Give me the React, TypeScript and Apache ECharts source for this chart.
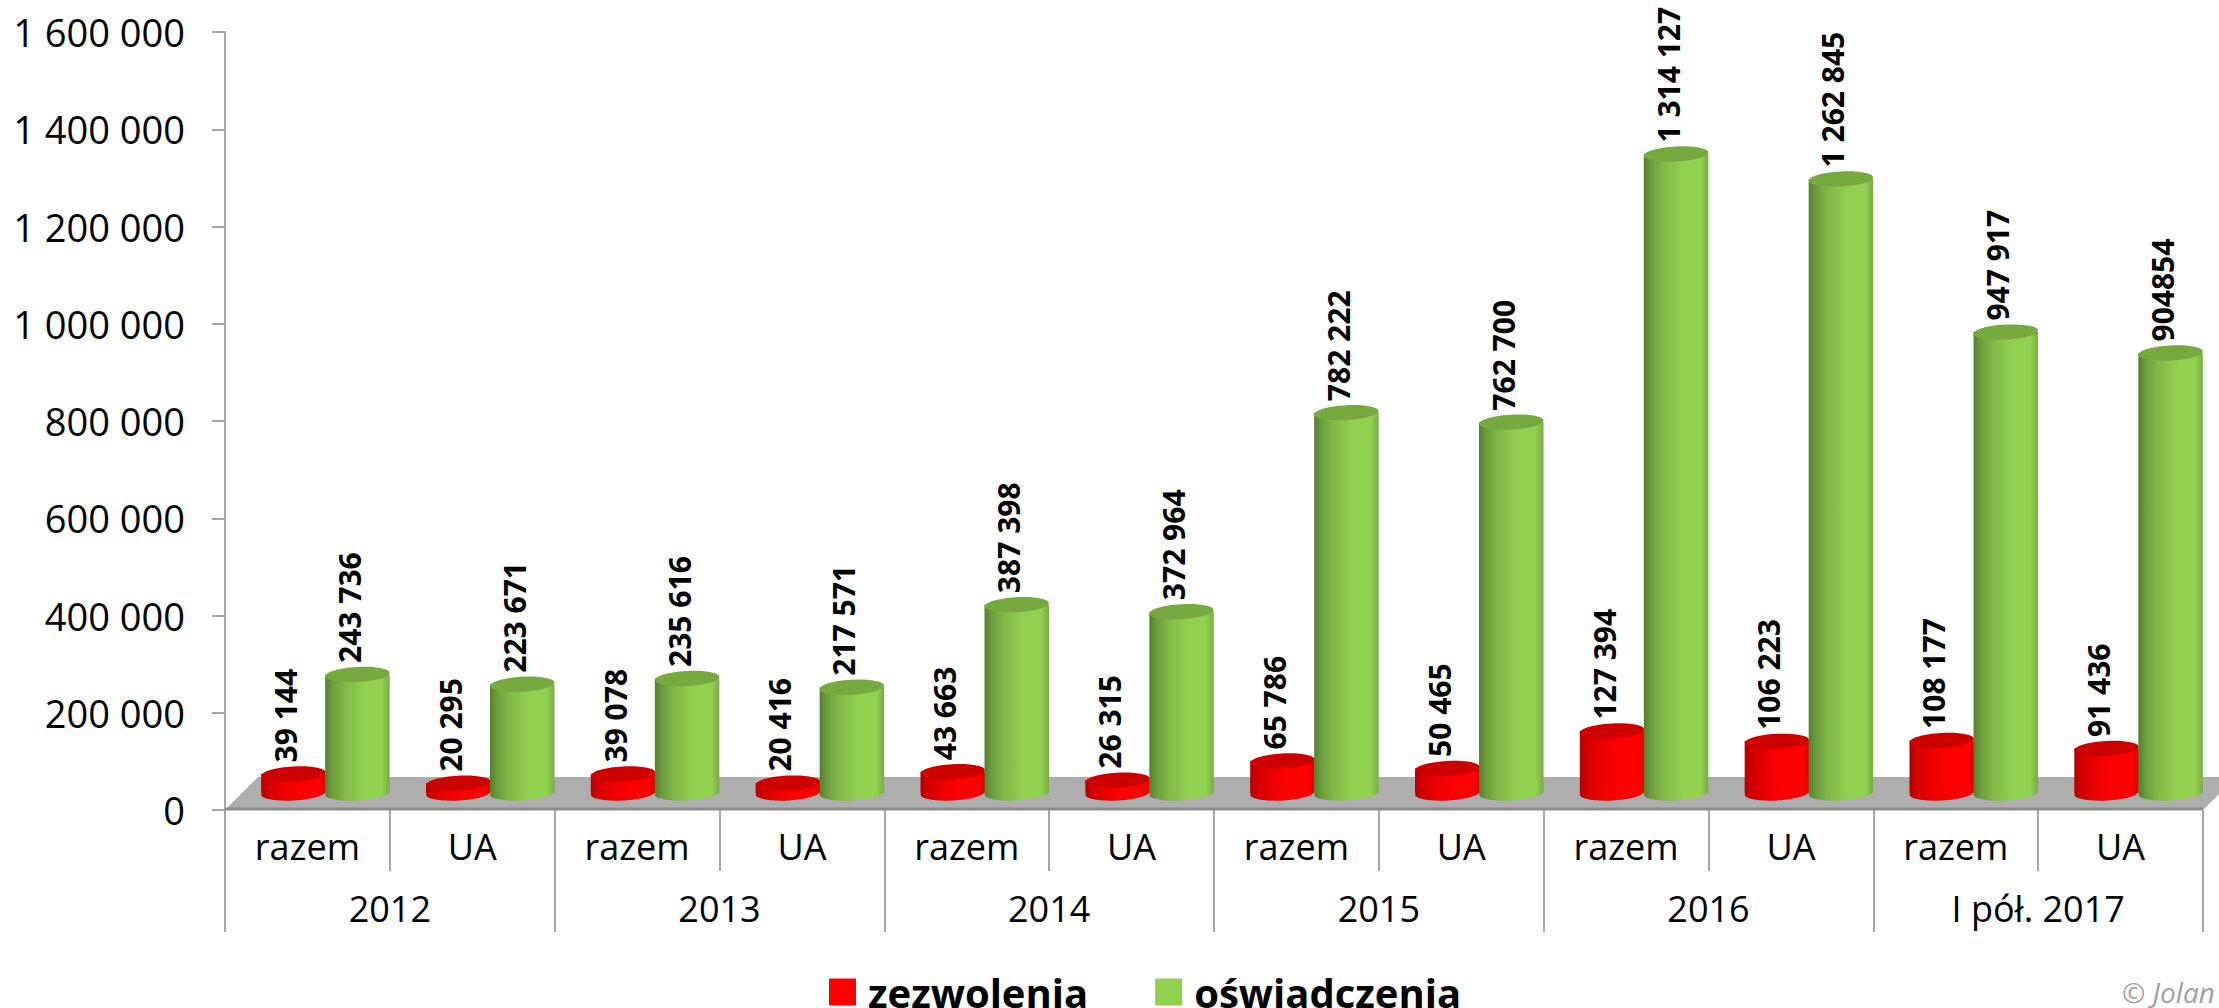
import React, { useEffect, useRef } from "react";
import * as echarts from "echarts";

const subCategories = ["razem", "UA", "razem", "UA", "razem", "UA", "razem", "UA", "razem", "UA", "razem", "UA"];
const periods = ["2012", "2013", "2014", "2015", "2016", "I pół. 2017"];
const zezwolenia = [39144, 20295, 39078, 20416, 43663, 26315, 65786, 50465, 127394, 106223, 108177, 91436];
const oswiadczenia = [243736, 223671, 235616, 217571, 387398, 372964, 782222, 762700, 1314127, 1262845, 947917, 904854];
const zezwoleniaLabels = ["39 144", "20 295", "39 078", "20 416", "43 663", "26 315", "65 786", "50 465", "127 394", "106 223", "108 177", "91 436"];
const oswiadczeniaLabels = ["243 736", "223 671", "235 616", "217 571", "387 398", "372 964", "782 222", "762 700", "1 314 127", "1 262 845", "947 917", "904854"];

const FONT = "'Open Sans', sans-serif";
const DEPTH = 33;
const LIFT = 17;
const BAR_W = 64.5;
const RY = 7.5;
const TILT = 0.055;

function hGrad(stops: [number, string][]) {
  return {
    type: "linear", x: 0, y: 0, x2: 1, y2: 0,
    colorStops: stops.map(([offset, color]) => ({ offset, color })),
  };
}

const greenBody = hGrad([[0, "#547f30"], [0.1, "#6b9a3d"], [0.3, "#82b847"], [0.6, "#92d050"], [0.88, "#92d050"], [1, "#79ad44"]]);
const redBody = hGrad([[0, "#b00000"], [0.12, "#d40000"], [0.35, "#ee0000"], [0.65, "#ff0000"], [0.9, "#ff0000"], [1, "#dd0000"]]);

function cylinder(dx: number, body: any, topColor: string, labels: string[]) {
  return (params: any, api: any) => {
    const i = api.value(0);
    const [cx, yv] = api.coord([i, api.value(1)]);
    const [, y0] = api.coord([i, 0]);
    const x = cx + dx;
    const base = y0 - LIFT;
    const top = yv - LIFT;
    return {
      type: "group",
      children: [
        { type: "ellipse", x, y: base, rotation: TILT, shape: { cx: 0, cy: 0, rx: BAR_W / 2, ry: RY }, style: { fill: body } },
        { type: "rect", shape: { x: x - BAR_W / 2, y: top, width: BAR_W, height: base - top }, style: { fill: body } },
        { type: "ellipse", x, y: top, rotation: TILT, shape: { cx: 0, cy: 0, rx: BAR_W / 2, ry: RY }, style: { fill: topColor } },
        {
          type: "text", x: x - 8, y: top - RY - 4, rotation: Math.PI / 2,
          style: {
            text: labels[i], fontFamily: FONT, fontWeight: "bold", fontSize: 30, fill: "#000",
            align: "left", verticalAlign: "middle",
          },
        },
      ],
    };
  };
}

function floor(params: any, api: any) {
  const c = params.coordSys;
  const b = c.y + c.height;
  const r = c.x + c.width;
  return {
    type: "group",
    children: [
      { type: "polygon", shape: { points: [[c.x, b], [r, b], [r + DEPTH, b - DEPTH], [c.x + DEPTH, b - DEPTH]] }, style: { fill: "#aeaeae" } },
      { type: "line", shape: { x1: c.x, y1: b - 1, x2: r, y2: b - 1 }, style: { stroke: "#8c8c8c", lineWidth: 3 } },
    ],
  };
}

export default function App() {
  const ref = useRef<HTMLDivElement>(null);
  useEffect(() => {
    const chart = echarts.init(ref.current!, undefined, { renderer: "svg" });
    const axisColor = "#a6a6a6";
    chart.setOption({
      animation: false,
      backgroundColor: "#fff",
      grid: { left: 225, right: 16, top: 32, bottom: 198 },
      legend: {
        left: 829, top: 972, padding: 0, itemWidth: 27, itemHeight: 27, itemGap: 67, icon: "rect", selectedMode: false,
        data: ["zezwolenia", "oświadczenia"],
        textStyle: { fontFamily: FONT, fontWeight: "bold", fontSize: 40, color: "#000", lineHeight: 30, padding: [0, 0, 6, 7] },
      },
      xAxis: [
        {
          type: "category", data: subCategories, position: "bottom",
          axisLine: { show: false },
          axisTick: { show: true, length: 61, lineStyle: { color: axisColor, width: 2 } },
          axisLabel: { interval: 0, margin: 36, verticalAlign: "middle", fontFamily: FONT, fontSize: 36, color: "#000" },
        },
        {
          type: "category", data: periods, position: "bottom",
          axisLine: { show: false },
          axisTick: { show: true, length: 122, lineStyle: { color: axisColor, width: 2 } },
          axisLabel: { interval: 0, margin: 98, verticalAlign: "middle", fontFamily: FONT, fontSize: 36, color: "#000" },
        },
      ],
      yAxis: {
        type: "value", min: 0, max: 1600000, interval: 200000,
        splitLine: { show: false },
        axisLine: { show: true, lineStyle: { color: axisColor, width: 2 } },
        axisTick: { show: true, length: 13, lineStyle: { color: axisColor, width: 2 } },
        axisLabel: {
          margin: 40, fontFamily: FONT, fontSize: 38, color: "#000",
          formatter: (v: number) => String(v).replace(/\B(?=(\d{3})+$)/g, " "),
        },
      },
      graphic: [
        {
          type: "text", x: 2122, y: 1006,
          style: { text: "© Jolan", fontFamily: FONT, fontStyle: "italic", fontSize: 28, fill: "#a0a0a0", align: "left", verticalAlign: "bottom" },
        },
      ],
      series: [
        { type: "custom", name: "floor", silent: true, clip: false, renderItem: floor, data: [[0, 0]], encode: { x: 0, y: 1 } },
        {
          type: "custom", name: "zezwolenia", clip: false, itemStyle: { color: "#ff0000" },
          renderItem: cylinder(-14, redBody, "#cc0000", zezwoleniaLabels),
          data: zezwolenia.map((v, i) => [i, v]), encode: { x: 0, y: 1 },
        },
        {
          type: "custom", name: "oświadczenia", clip: false, itemStyle: { color: "#92d050" },
          renderItem: cylinder(50, greenBody, "#76a93f", oswiadczeniaLabels),
          data: oswiadczenia.map((v, i) => [i, v]), encode: { x: 0, y: 1 },
        },
      ],
    });
    return () => chart.dispose();
  }, []);
  return <div ref={ref} style={{ position: "absolute", left: 0, top: 0, width: 2219, height: 1008, overflow: "hidden" }} />;
}
